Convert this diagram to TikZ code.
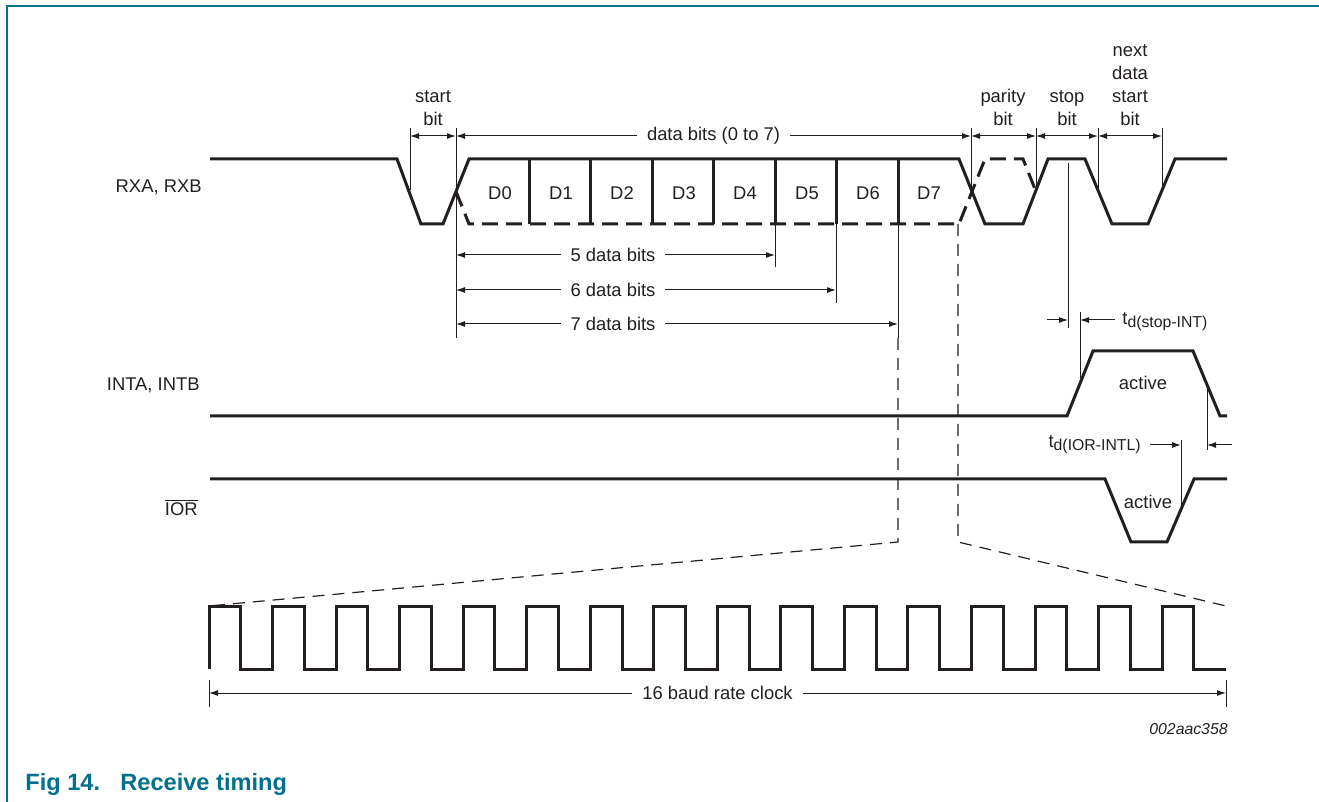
\documentclass[tikz,border=0pt]{standalone}
\usepackage{fontspec}
\setmainfont{Liberation Sans}
\usetikzlibrary{arrows.meta}
\definecolor{nxpteal}{RGB}{0,112,140}
\definecolor{inkgray}{RGB}{35,31,32}
\newcommand{\tdelay}[1]{t\raisebox{-1.5pt}{\fontsize{7.9}{8}\selectfont #1}}

\begin{document}
\begin{tikzpicture}[x=0.5pt, y=-0.5pt, line join=miter,
                >={Latex[length=4.5pt,width=3pt]},
                signalline/.style={draw=inkgray, line width=1.5pt},
                signaldash/.style={draw=inkgray, line width=1.5pt, dash pattern=on 8pt off 4pt},
                helpline/.style={draw=inkgray, line width=0.5pt},
                zoomline/.style={draw=inkgray, line width=0.6pt, dash pattern=on 6pt off 4pt},
                textlabel/.style={font=\fontsize{9.2}{11.5}\selectfont, text=inkgray, inner sep=0pt},
                gaplabel/.style={textlabel, fill=white, inner xsep=5pt, inner ysep=1pt}]
            \useasboundingbox (0,0) rectangle (1319,802);
            % Frame and caption
            \draw[nxpteal, line width=1pt] (7,802) -- (7,6) -- (1319,6);
            \node[anchor=base west, inner sep=0pt, text=nxpteal, font=\fontsize{11.8}{14}\selectfont\bfseries] (fignum) at (25,790) {Fig 14.};
            \node[anchor=base west, inner sep=0pt, text=nxpteal, font=\fontsize{11.8}{14}\selectfont\bfseries] (figtitle) at (120,790) {Receive timing};
            \node[textlabel, anchor=base east, font=\fontsize{7.9}{9}\selectfont\itshape] (docid) at (1228,734) {002aac358};
            % Signal names
            \node[textlabel, anchor=base east] (rxname) at (202,193) {RXA, RXB};
            \node[textlabel, anchor=base east] (intname) at (200,391) {INTA, INTB};
            \node[textlabel, anchor=base east] (iorname) at (198,516) {$\overline{\mbox{IOR}}$};
            % RXA, RXB waveform
            \draw[signalline] (210,159) -- (397,159) -- (421,224) -- (443,224) -- (469,159) -- (959,159) -- (985,224) -- (1023,224) -- (1048,159) -- (1085,159) -- (1112,224) -- (1148,224) -- (1175,159) -- (1227,159);
            \draw[signaldash] (456,191.5) -- (469,224) -- (959,224) -- (985,159) -- (1023,159) -- (1036,191.5);
        \foreach \x in {529,590,652,713,775,836,898} {
            \draw[signalline] (\x,159) -- (\x,224);
        }
        \foreach \i/\x in {0/500,1/561,2/622,3/684,4/745,5/807,6/868,7/929} {
            \node[textlabel, anchor=base] (d\i) at (\x,200) {D\i};
        }
            % INTA, INTB and IOR waveforms
            \draw[signalline] (210,416) -- (1067,416) -- (1093,351) -- (1193,351) -- (1220,416) -- (1227,416);
            \node[textlabel, anchor=base] (intactive) at (1143,390) {active};
            \draw[signalline] (210,479) -- (1105,479) -- (1131,542) -- (1167,542) -- (1194,479) -- (1227,479);
            \node[textlabel, anchor=base] (ioractive) at (1148,509) {active};
            % Bit widths
        \foreach \x/\ybot in {410/190, 456/338, 971/191, 1036/192, 1098/188, 1162/188} {
            \draw[helpline] (\x,128) -- (\x,\ybot);
        }
            \draw[helpline, <->] (410,136) -- (456,136);
            \draw[helpline, <->] (456,136) -- node[gaplabel] (databits) {data bits (0 to 7)} (971,136);
            \draw[helpline, <->] (971,136) -- (1036,136);
            \draw[helpline, <->] (1036,136) -- (1098,136);
            \draw[helpline, <->] (1098,136) -- (1162,136);
            \node[textlabel, anchor=south, align=center] (startbit) at (433,126) {start\\bit};
            \node[textlabel, anchor=south, align=center] (paritybit) at (1003,126) {parity\\bit};
            \node[textlabel, anchor=south, align=center] (stopbit) at (1067,126) {stop\\bit};
            \node[textlabel, anchor=south, align=center] (nextbit) at (1130,126) {next\\data\\start\\bit};
            % Word lengths
            \draw[helpline] (775,224) -- (775,267);
            \draw[helpline] (836,224) -- (836,303);
            \draw[helpline] (898,224) -- (898,338);
        \foreach \y/\xend/\n in {255/775/5, 290/836/6, 324/898/7} {
            \draw[helpline, <->] (456,\y) -- (\xend,\y);
            \node[gaplabel] (bits\n) at (613,\y) {\n{} data bits};
        }
            % Delays
            \draw[helpline] (1068,163) -- (1068,328);
            \draw[helpline] (1080,312) -- (1080,378);
            \draw[helpline, ->] (1047,320) -- (1068,320);
            \draw[helpline, ->] (1115,320) -- (1080,320);
            \node[textlabel, anchor=base west] (tdstop) at (1122,325) {\tdelay{d(stop-INT)}};
            \draw[helpline] (1181,440) -- (1181,507);
            \draw[helpline] (1207,385) -- (1207,450);
            \draw[helpline, ->] (1150,445) -- (1181,445);
            \draw[helpline, ->] (1232,445) -- (1207,445);
            \node[textlabel, anchor=base east] (tdior) at (1141,448) {\tdelay{d(IOR-INTL)}};
            % Zoom to baud clock
            \draw[zoomline] (898,338) -- (898,542) -- (209,606);
            \draw[zoomline] (958,224) -- (958,542) -- (1226,606);
            \draw[signalline] (209,669) \foreach \i in {1,...,16} { -- ++(0,-63) -- ++(31.77,0) -- ++(0,63) -- ++(31.77,0) };
            \draw[helpline] (209,680) -- (209,707);
            \draw[helpline] (1226,680) -- (1226,707);
            \draw[helpline, <->] (209,693) -- node[gaplabel] (baudclock) {16 baud rate clock} (1226,693);
            \end{tikzpicture}
\end{document}
